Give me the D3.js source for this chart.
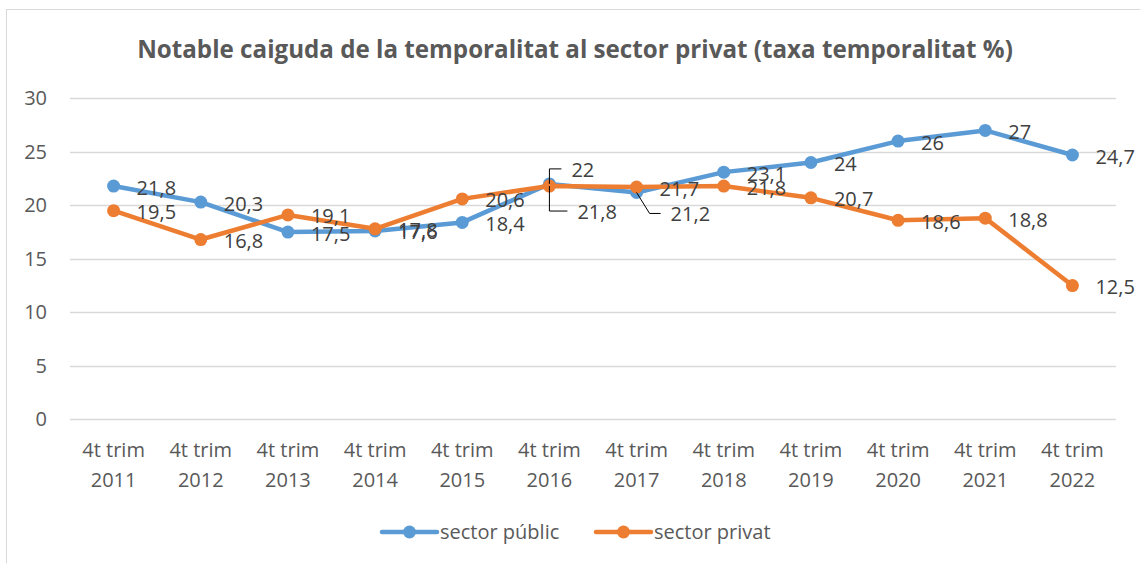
<!DOCTYPE html>
<html>
<head>
<meta charset="utf-8">
<script src="https://cdn.jsdelivr.net/npm/d3@7"></script>
<style>
  body { margin: 0; background: #fff; }
  svg { display: block; font-family: "Open Sans", Lato, sans-serif; }
</style>
</head>
<body>
<div id="chart"></div>
<script>
// chart data
var categories = ["4t trim 2011", "4t trim 2012", "4t trim 2013", "4t trim 2014", "4t trim 2015", "4t trim 2016",
                  "4t trim 2017", "4t trim 2018", "4t trim 2019", "4t trim 2020", "4t trim 2021", "4t trim 2022"];
var publicValues  = [21.8, 20.3, 17.5, 17.6, 18.4, 22, 21.2, 23.1, 24, 26, 27, 24.7];
var privateValues = [19.5, 16.8, 19.1, 17.8, 20.6, 21.8, 21.7, 21.8, 20.7, 18.6, 18.8, 12.5];
var yTicks = [0, 5, 10, 15, 20, 25, 30];
var seriesNames = ["sector públic", "sector privat"];

var title = "Notable caiguda de la temporalitat al sector privat (taxa temporalitat %)";

var width = 1140, height = 563;
var margin = { top: 98.3, left: 70, right: 24, bottom: 143.7 };
var colors = ["#5B9BD5", "#ED7D31"];
var fontSize = "20px";

// labels moved off the default "right" spot, with leader lines
var callouts = {
    "0-5": { dx: 22, dy: -14, elbow: 0 },
    "1-5": { dx: 28, dy: 26, elbow: 0 },
    "0-6": { dx: 34, dy: 22, elbow: 13 }
};

var svg = d3.select("#chart").append("svg")
    .attr("width", width)
    .attr("height", height);

// outer chart border
svg.append("rect")
    .attr("x", 6.5).attr("y", 9.5)
    .attr("width", 1200).attr("height", 600)
    .attr("fill", "none")
    .attr("stroke", "#d9d9d9");

var titleText = svg.append("text")
    .attr("x", 575).attr("y", 58)
    .attr("text-anchor", "middle")
    .style("font-size", "24px")
    .style("font-weight", "bold")
    .attr("fill", "#595959")
    .text(title);
// fit the title to the width it has in the original
var tw = titleText.node().getComputedTextLength();
titleText.style("font-size", (24 * 876 / tw) + "px");

var x = d3.scaleBand()
    .domain(categories)
    .range([margin.left, width - margin.right]);

var y = d3.scaleLinear()
    .domain([0, 30])
    .range([height - margin.bottom, margin.top]);

// gridlines
svg.append("g").selectAll("line")
    .data(yTicks)
    .enter().append("line")
    .attr("x1", margin.left).attr("x2", width - margin.right)
    .attr("y1", function(d) { return Math.round(y(d)) + 0.5; })
    .attr("y2", function(d) { return Math.round(y(d)) + 0.5; })
    .attr("stroke", "#d9d9d9")
    .attr("stroke-width", 1.3);

// y axis labels
var yAxis = d3.axisLeft(y).tickValues(yTicks).tickSize(0).tickPadding(23);
var gy = svg.append("g")
    .attr("transform", "translate(" + margin.left + ",0)")
    .call(yAxis);
gy.select(".domain").remove();
gy.selectAll("text")
    .style("font-size", fontSize)
    .style("font-family", "'Open Sans', sans-serif")
    .attr("fill", "#595959");

// x axis labels (two lines)
var xAxis = d3.axisBottom(x).tickSize(0).tickFormat("");
var gx = svg.append("g")
    .attr("transform", "translate(0," + y(0) + ")")
    .call(xAxis);
gx.select(".domain").remove();
gx.selectAll(".tick").each(function(d) {
    var i = d.lastIndexOf(" ");
    var t = d3.select(this).append("text")
        .attr("text-anchor", "middle")
        .attr("fill", "#595959")
        .style("font-size", fontSize)
        .style("font-family", "'Open Sans', sans-serif");
    t.append("tspan").attr("x", 0).attr("y", 38).text(d.slice(0, i));
    t.append("tspan").attr("x", 0).attr("y", 68).text(d.slice(i + 1));
});

var cx = function(i) { return x(categories[i]) + x.bandwidth() / 2; };

var line = d3.line()
    .x(function(d, i) { return cx(i); })
    .y(function(d) { return y(d); });

var allSeries = [publicValues, privateValues];

allSeries.forEach(function(vals, s) {
    svg.append("path")
        .datum(vals)
        .attr("d", line)
        .attr("fill", "none")
        .attr("stroke", colors[s])
        .attr("stroke-width", 4.5)
        .attr("stroke-linejoin", "round");

    svg.append("g").selectAll("circle")
        .data(vals)
        .enter().append("circle")
        .attr("cx", function(d, i) { return cx(i); })
        .attr("cy", function(d) { return y(d); })
        .attr("r", 6.5)
        .attr("fill", colors[s]);
});

// data labels
var fmt = function(v) { return String(v).replace(".", ","); };

allSeries.forEach(function(vals, s) {
    vals.forEach(function(v, i) {
        var px = cx(i), py = y(v);
        var c = callouts[s + "-" + i];
        var lx = px + 23, ly = py + 1.5;
        if (c) {
            lx = px + c.dx; ly = py + c.dy;
            svg.append("path")
                .attr("d", "M" + px + "," + py + "L" + (px + c.elbow) + "," + (ly - 1) + "L" + (lx - 10) + "," + (ly - 1))
                .attr("fill", "none")
                .attr("stroke", "#000")
                .attr("stroke-width", 1);
        }
        svg.append("text")
            .attr("x", lx).attr("y", ly)
            .attr("dy", "0.35em")
            .attr("fill", "#404040")
            .style("font-size", fontSize)
            .text(fmt(v));
    });
});

// legend
var legend = svg.append("g").attr("transform", "translate(0,532)");
var legendX = [382, 596];
seriesNames.forEach(function(name, s) {
    var g = legend.append("g").attr("transform", "translate(" + legendX[s] + ",0)");
    g.append("line")
        .attr("x1", 0).attr("x2", 55)
        .attr("stroke", colors[s])
        .attr("stroke-width", 4.5)
        .attr("stroke-linecap", "round");
    g.append("circle").attr("cx", 27.5).attr("r", 6.5).attr("fill", colors[s]);
    g.append("text")
        .attr("x", 58).attr("dy", "0.35em")
        .attr("fill", "#595959")
        .style("font-size", fontSize)
        .text(name);
});
</script>
</body>
</html>
